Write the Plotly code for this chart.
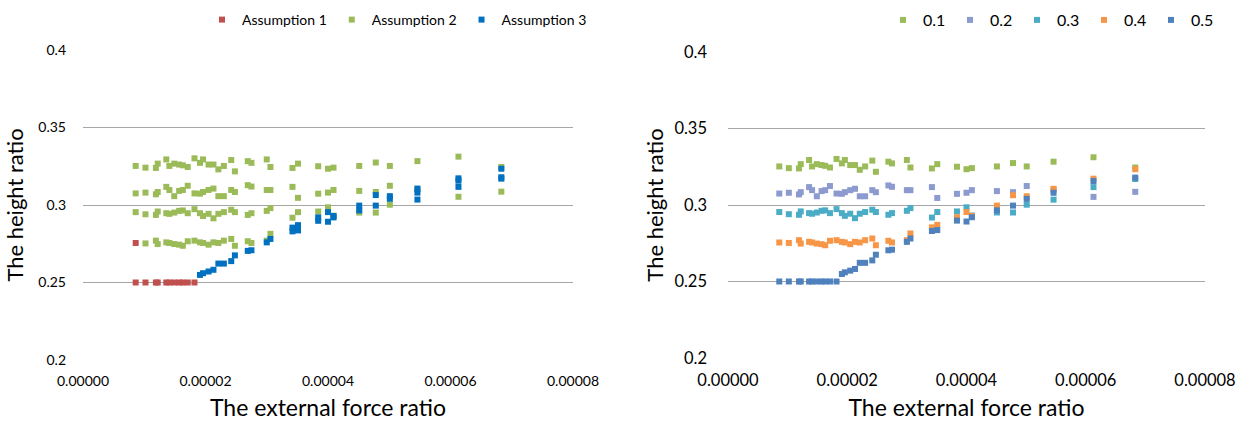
import plotly.graph_objects as go

# ---------------- data ----------------
x_ratio = [0.0000086, 0.0000102, 0.0000119, 0.0000122, 0.0000136, 0.0000141, 0.0000149,
           0.0000157, 0.0000163, 0.0000171, 0.0000182, 0.0000191, 0.0000196, 0.0000205,
           0.0000213, 0.0000221, 0.0000230, 0.0000242, 0.0000248, 0.0000269, 0.0000275,
           0.0000300, 0.0000306, 0.0000342, 0.0000351, 0.0000384, 0.0000400, 0.0000409,
           0.0000451, 0.0000478, 0.0000501, 0.0000546, 0.0000613, 0.0000683]

y_01 = [0.3252, 0.3241, 0.3239, 0.3267, 0.3294, 0.3252, 0.3267, 0.3261, 0.3256, 0.3245,
        0.3301, 0.3272, 0.3294, 0.3261, 0.3261, 0.3230, 0.3252, 0.3290, 0.3217,
        0.3283, 0.3272, 0.3294, 0.3245, 0.3239, 0.3267, 0.3250, 0.3234, 0.3241,
        0.3252, 0.3274, 0.3252, 0.3283, 0.3312, 0.3245]
y_02 = [0.3075, 0.3080, 0.3069, 0.3084, 0.3117, 0.3097, 0.3057, 0.3091, 0.3097, 0.3124,
        0.3075, 0.3073, 0.3084, 0.3097, 0.3106, 0.3057, 0.3057, 0.3097, 0.3084,
        0.3128, 0.3119, 0.3097, 0.3097, 0.3117, 0.3046, 0.3073, 0.3080, 0.3097,
        0.3091, 0.3084, 0.3124, 0.3100, 0.3053, 0.3086]
y_03 = [0.2954, 0.2940, 0.2936, 0.2958, 0.2947, 0.2943, 0.2951, 0.2962, 0.2965, 0.2947,
        0.2973, 0.2947, 0.2929, 0.2943, 0.2914, 0.2943, 0.2954, 0.2969, 0.2954,
        0.2936, 0.2947, 0.2962, 0.2980, 0.2918, 0.2954, 0.2958, 0.2985, 0.2931,
        0.2951, 0.2951, 0.3002, 0.3035, 0.3117, 0.3170]
y_04 = [0.2755, 0.2752, 0.2770, 0.2748, 0.2759, 0.2755, 0.2748, 0.2744, 0.2737, 0.2766,
        0.2770, 0.2759, 0.2755, 0.2744, 0.2759, 0.2755, 0.2770, 0.2781, 0.2737,
        0.2766, 0.2755, 0.2770, 0.2814, 0.2854, 0.2870, 0.2920, 0.2954, 0.2929,
        0.2996, 0.3064, 0.3057, 0.3106, 0.3172, 0.3234]
y_05 = [0.2500, 0.2500, 0.2500, 0.2500, 0.2500, 0.2500, 0.2500, 0.2500, 0.2500, 0.2500,
        0.2500, 0.2549, 0.2560, 0.2571, 0.2582, 0.2622, 0.2622, 0.2638, 0.2675,
        0.2704, 0.2708, 0.2759, 0.2781, 0.2830, 0.2836, 0.2898, 0.2892, 0.2920,
        0.2965, 0.2996, 0.3040, 0.3080, 0.3157, 0.3179]

# assumption that applies to each point (1, 2 or 3)
a_01 = [2, 2, 2, 2, 2, 2, 2, 2, 2, 2, 2, 2, 2, 2, 2, 2, 2, 2, 2, 2, 2, 2, 2, 2, 2, 2, 2, 2, 2, 2, 2, 2, 2, 2]
a_02 = [2, 2, 2, 2, 2, 2, 2, 2, 2, 2, 2, 2, 2, 2, 2, 2, 2, 2, 2, 2, 2, 2, 2, 2, 2, 2, 2, 2, 2, 2, 2, 2, 2, 2]
a_03 = [2, 2, 2, 2, 2, 2, 2, 2, 2, 2, 2, 2, 2, 2, 2, 2, 2, 2, 2, 2, 2, 2, 2, 2, 2, 2, 2, 2, 2, 2, 2, 3, 3, 3]
a_04 = [1, 2, 2, 2, 2, 2, 2, 2, 2, 2, 2, 2, 2, 2, 2, 2, 2, 2, 2, 2, 2, 2, 2, 3, 3, 3, 3, 3, 3, 3, 3, 3, 3, 3]
a_05 = [1, 1, 1, 1, 1, 1, 1, 1, 1, 1, 1, 3, 3, 3, 3, 3, 3, 3, 3, 3, 3, 3, 3, 3, 3, 3, 3, 3, 3, 3, 3, 3, 3, 3]

series_names = ["0.1", "0.2", "0.3", "0.4", "0.5"]
series_y = [y_01, y_02, y_03, y_04, y_05]
series_a = [a_01, a_02, a_03, a_04, a_05]
assumption_names = ["Assumption 1", "Assumption 2", "Assumption 3"]

x_ticks = [0, 0.00002, 0.00004, 0.00006, 0.00008]
y_ticks = [0.2, 0.25, 0.3, 0.35, 0.4]

# ---------------- styles ----------------
FONT = "Lato, 'Open Sans', sans-serif"
series_colors = ["#9BBB59", "#8C9ACF", "#4BACC6", "#F79646", "#4F81BD"]
assumption_colors = ["#C0504D", "#9BBB59", "#0070C0"]
GRID = "#A6A6A6"
W, H = 1241, 421

fig = go.Figure()

# left chart: grouped by assumption
for k, name in enumerate(assumption_names):
    xs, ys = [], []
    for y_list, a_list in zip(series_y, series_a):
        for xv, yv, av in zip(x_ratio, y_list, a_list):
            if av == k + 1:
                xs.append(xv)
                ys.append(yv)
    fig.add_trace(go.Scatter(x=xs, y=ys, mode="markers", name=name,
                             marker=dict(symbol="square", size=6, color=assumption_colors[k]),
                             xaxis="x", yaxis="y", legend="legend"))

# right chart: grouped by parameter value
for name, y_list, col in zip(series_names, series_y, series_colors):
    fig.add_trace(go.Scatter(x=x_ratio, y=y_list, mode="markers", name=name,
                             marker=dict(symbol="square", size=6, color=col),
                             xaxis="x2", yaxis="y2", legend="legend2"))

def px_x(p):
    return p / W

def px_y(p):
    return 1 - p / H

def xaxis(dom, anchor, fsize, title_size, standoff):
    return dict(domain=dom, anchor=anchor, range=[0, 0.00008], tickvals=x_ticks, tickformat=".5f",
                showgrid=False, zeroline=False, showline=False, ticks="", automargin=False,
                tickfont=dict(size=fsize, color="#000000", family=FONT),
                ticklabelstandoff=standoff,
                title=dict(text="The external force ratio",
                           font=dict(size=title_size, color="#000000", family=FONT), standoff=16))

def yaxis(dom, anchor, fsize, title_size, standoff, tstand):
    return dict(domain=dom, anchor=anchor, range=[0.2, 0.4], tickvals=y_ticks, automargin=False,
                showgrid=True, gridcolor=GRID, gridwidth=1, zeroline=False, showline=False, ticks="",
                tickfont=dict(size=fsize, color="#000000", family=FONT),
                ticklabelstandoff=standoff,
                title=dict(text="The height ratio",
                           font=dict(size=title_size, color="#000000", family=FONT), standoff=tstand))

fig.update_layout(
    width=W, height=H,
    margin=dict(l=0, r=0, t=0, b=0, autoexpand=False),
    paper_bgcolor="#FFFFFF", plot_bgcolor="#FFFFFF",
    font=dict(family=FONT, color="#000000"),
    xaxis=xaxis([px_x(83), px_x(573)], "y", 14, 23, 11),
    yaxis=yaxis([px_y(360), px_y(50)], "x", 14, 22, 16, 8),
    xaxis2=xaxis([px_x(728), px_x(1205)], "y2", 16.5, 23, 10),
    yaxis2=yaxis([px_y(358), px_y(52)], "x2", 16.5, 22, 20, 4),
    legend=dict(orientation="h", x=px_x(592), xanchor="right", y=px_y(20), yanchor="middle",
                font=dict(size=14, color="#000000", family=FONT), bgcolor="rgba(0,0,0,0)",
                itemwidth=30, tracegroupgap=0),
    legend2=dict(orientation="h", x=px_x(1218), xanchor="right", y=px_y(20), yanchor="middle",
                 font=dict(size=16, color="#000000", family=FONT), bgcolor="rgba(0,0,0,0)",
                 itemwidth=30, tracegroupgap=0, entrywidth=22, entrywidthmode="pixels"),
)

fig.write_html("out.html", config={"displayModeBar": False},
               post_script="document.body.style.margin='0';")
